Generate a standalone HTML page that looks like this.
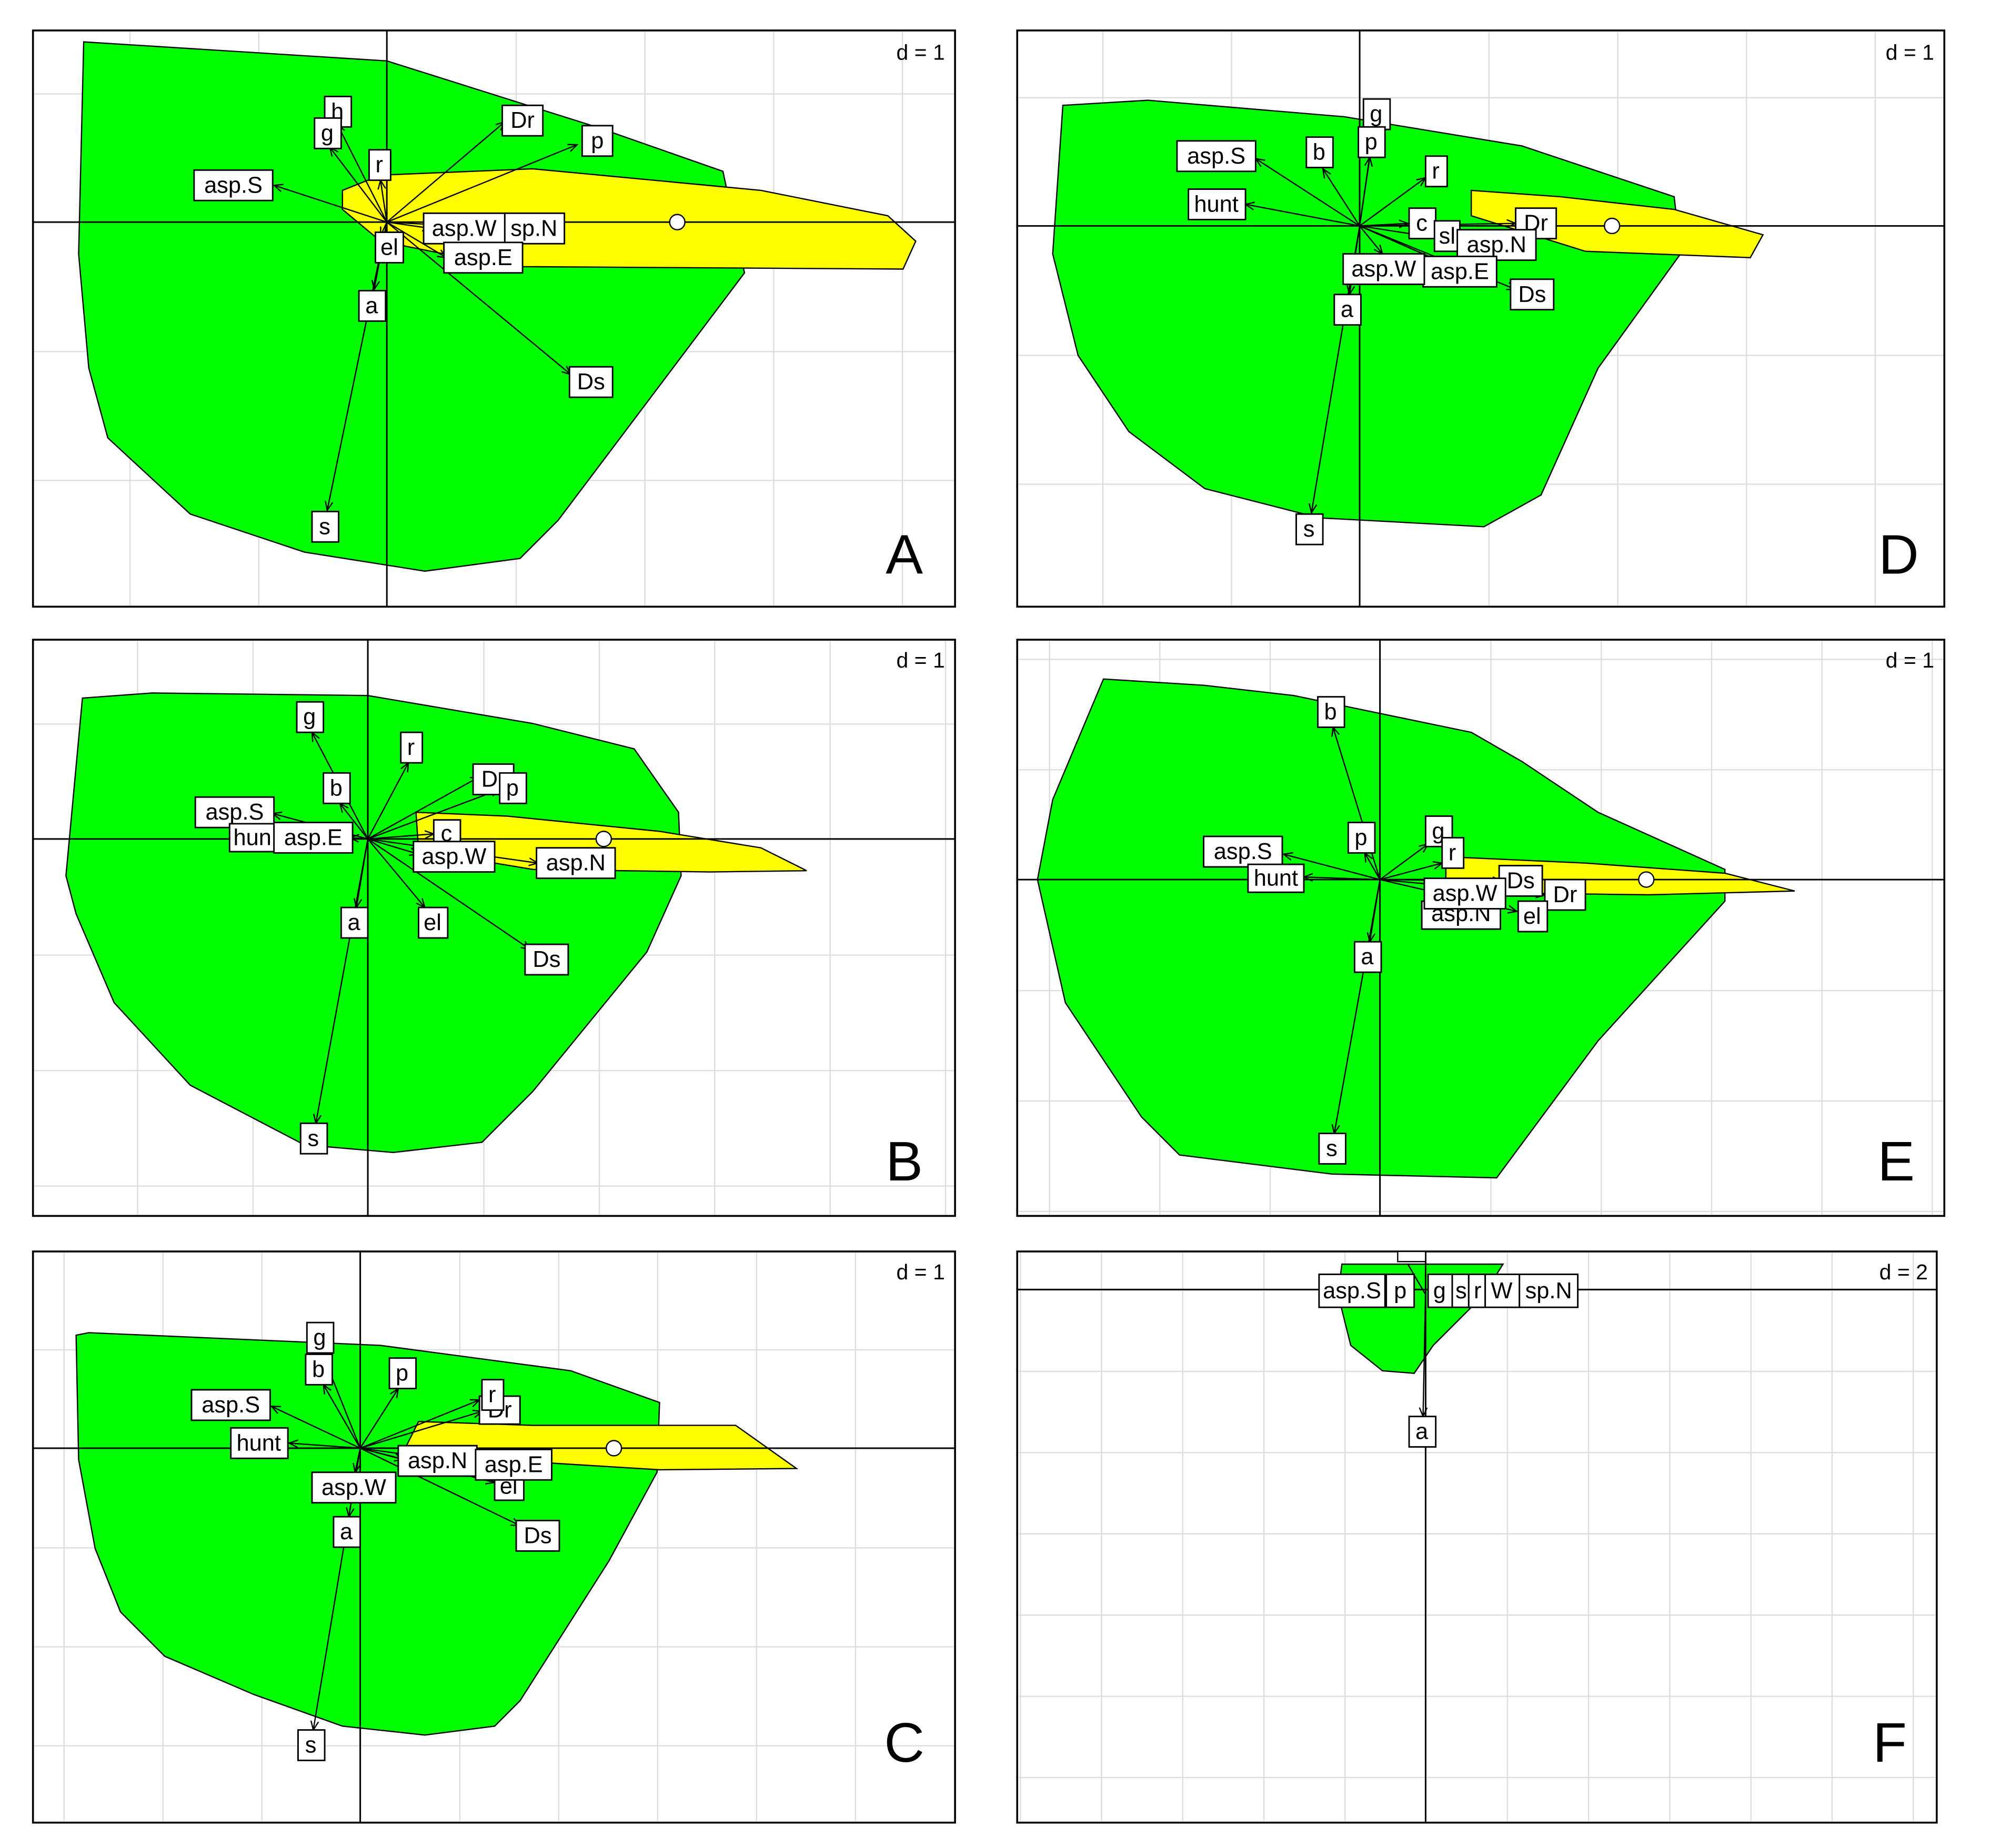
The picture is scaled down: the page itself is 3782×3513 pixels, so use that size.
<!DOCTYPE html>
<html><head><meta charset="utf-8"><style>
html,body{margin:0;padding:0;background:#fff;}
svg{display:block;}
text{font-family:"Liberation Sans",sans-serif;}
.l rect{fill:#fff;stroke:#000;stroke-width:1.2;}
.l text{font-size:18px;text-anchor:middle;dominant-baseline:central;fill:#000;}
.ar{stroke:#000;stroke-width:1;marker-end:url(#ah);}
.gr{fill:#00ff00;stroke:#000;stroke-width:1;}
.ye{fill:#ffff00;stroke:#000;stroke-width:1;}
.ax{stroke:#000;stroke-width:1.2;}
.fr{fill:#fff;stroke:#000;stroke-width:1.5;}
.big{font-size:44px;text-anchor:middle;}
.d{font-size:17px;text-anchor:end;}
</style></head><body>
<svg width="3782" height="3513" viewBox="0 0 1569 1456" preserveAspectRatio="none" xmlns="http://www.w3.org/2000/svg">
<defs>
<marker id="ah" markerWidth="8" markerHeight="8" refX="7" refY="4" orient="auto" markerUnits="userSpaceOnUse"><path d="M0,1 L7,4 L0,7" fill="none" stroke="#000" stroke-width="1"/></marker>
<pattern id="gA" patternUnits="userSpaceOnUse" width="101.5" height="101.5" x="305" y="175"><path d="M0,0 V101.5 M0,0 H101.5" stroke="#ddd" stroke-width="2" fill="none"/></pattern>
<pattern id="gD" patternUnits="userSpaceOnUse" width="101.5" height="101.5" x="1072" y="178"><path d="M0,0 V101.5 M0,0 H101.5" stroke="#ddd" stroke-width="2" fill="none"/></pattern>
<pattern id="gB" patternUnits="userSpaceOnUse" width="91" height="91" x="290" y="661"><path d="M0,0 V91 M0,0 H91" stroke="#ddd" stroke-width="2" fill="none"/></pattern>
<pattern id="gE" patternUnits="userSpaceOnUse" width="87" height="87" x="1088" y="693"><path d="M0,0 V87 M0,0 H87" stroke="#ddd" stroke-width="2" fill="none"/></pattern>
<pattern id="gC" patternUnits="userSpaceOnUse" width="78" height="78" x="284" y="1141"><path d="M0,0 V78 M0,0 H78" stroke="#ddd" stroke-width="2" fill="none"/></pattern>
<pattern id="gF" patternUnits="userSpaceOnUse" width="64" height="64" x="1124" y="1016"><path d="M0,0 V64 M0,0 H64" stroke="#ddd" stroke-width="2" fill="none"/></pattern>
</defs>
<rect width="1569" height="1456" fill="#fff"/>

<!-- Panel A -->
<rect class="fr" x="26" y="24" width="727" height="454"/>
<rect x="27" y="25" width="725" height="452" fill="url(#gA)"/>
<polygon class="gr" points="66,33 305,48 470,100 570,135 587,215 440,410 410,440 335,450 240,435 150,405 85,345 70,290 62,200"/>
<polygon class="ye" points="270,150 300,138 420,133 600,150 700,170 722,190 712,212 400,210 300,190 270,165"/>
<line class="ax" x1="26" y1="175" x2="753" y2="175"/><line class="ax" x1="305" y1="24" x2="305" y2="478"/>
<circle cx="534" cy="175" r="6" fill="#fff" stroke="#000"/>
<g class="ar"><line x1="305" y1="175" x2="266" y2="98"/><line x1="305" y1="175" x2="260" y2="116"/><line x1="305" y1="175" x2="300" y2="142"/><line x1="305" y1="175" x2="398" y2="96"/><line x1="305" y1="175" x2="455" y2="114"/><line x1="305" y1="175" x2="216" y2="146"/><line x1="305" y1="175" x2="340" y2="180"/><line x1="305" y1="175" x2="400" y2="180"/><line x1="305" y1="175" x2="352" y2="203"/><line x1="305" y1="175" x2="300" y2="186"/><line x1="305" y1="175" x2="295" y2="228"/><line x1="305" y1="175" x2="450" y2="295"/><line x1="305" y1="175" x2="258" y2="402"/></g>
<g class="l"><rect x="256" y="76" width="21" height="24"/><text x="266" y="88">h</text><rect x="248" y="93" width="21" height="24"/><text x="258" y="105">g</text><rect x="291" y="118" width="17" height="24"/><text x="299" y="130">r</text><rect x="396" y="83" width="32" height="24"/><text x="412" y="95">Dr</text><rect x="459" y="99" width="24" height="24"/><text x="471" y="111">p</text><rect x="153" y="134" width="62" height="24"/><text x="184" y="146">asp.S</text><rect x="334" y="168" width="64" height="24"/><text x="366" y="180">asp.W</text><rect x="398" y="168" width="47" height="24"/><text x="421" y="180">sp.N</text><rect x="350" y="191" width="62" height="24"/><text x="381" y="203">asp.E</text><rect x="296" y="183" width="22" height="24"/><text x="307" y="195">el</text><rect x="283" y="229" width="21" height="24"/><text x="293" y="241">a</text><rect x="449" y="289" width="34" height="24"/><text x="466" y="301">Ds</text><rect x="246" y="403" width="21" height="24"/><text x="256" y="415">s</text></g>
<text class="d" x="745" y="47">d = 1</text><text class="big" x="713" y="452">A</text>

<!-- Panel D -->
<rect class="fr" x="802" y="24" width="731" height="454"/>
<rect x="803" y="25" width="729" height="452" fill="url(#gD)"/>
<polygon class="gr" points="838,83 905,79 1060,92 1200,115 1320,155 1325,200 1260,290 1215,390 1170,415 1040,408 950,385 890,340 850,280 830,200"/>
<polygon class="ye" points="1160,150 1230,155 1320,165 1390,185 1380,203 1250,198 1160,170"/>
<line class="ax" x1="802" y1="178" x2="1533" y2="178"/><line class="ax" x1="1072" y1="24" x2="1072" y2="478"/>
<circle cx="1271" cy="178" r="6" fill="#fff" stroke="#000"/>
<g class="ar"><line x1="1072" y1="178" x2="1083" y2="102"/><line x1="1072" y1="178" x2="1080" y2="124"/><line x1="1072" y1="178" x2="1043" y2="133"/><line x1="1072" y1="178" x2="990" y2="125"/><line x1="1072" y1="178" x2="982" y2="161"/><line x1="1072" y1="178" x2="1124" y2="140"/><line x1="1072" y1="178" x2="1110" y2="176"/><line x1="1072" y1="178" x2="1195" y2="176"/><line x1="1072" y1="178" x2="1150" y2="190"/><line x1="1072" y1="178" x2="1090" y2="200"/><line x1="1072" y1="178" x2="1140" y2="208"/><line x1="1072" y1="178" x2="1195" y2="228"/><line x1="1072" y1="178" x2="1064" y2="232"/><line x1="1072" y1="178" x2="1034" y2="404"/></g>
<g class="l"><rect x="1075" y="78" width="21" height="24"/><text x="1085" y="90">g</text><rect x="1071" y="100" width="21" height="24"/><text x="1081" y="112">p</text><rect x="1030" y="108" width="21" height="24"/><text x="1040" y="120">b</text><rect x="928" y="111" width="62" height="24"/><text x="959" y="123">asp.S</text><rect x="937" y="149" width="45" height="24"/><text x="959" y="161">hunt</text><rect x="1124" y="123" width="17" height="24"/><text x="1132" y="135">r</text><rect x="1111" y="164" width="21" height="24"/><text x="1121" y="176">c</text><rect x="1195" y="164" width="32" height="24"/><text x="1211" y="176">Dr</text><rect x="1131" y="174" width="20" height="24"/><text x="1141" y="186">sl</text><rect x="1149" y="181" width="62" height="24"/><text x="1180" y="193">asp.N</text><rect x="1122" y="202" width="58" height="24"/><text x="1151" y="214">asp.E</text><rect x="1059" y="200" width="64" height="24"/><text x="1091" y="212">asp.W</text><rect x="1191" y="220" width="34" height="24"/><text x="1208" y="232">Ds</text><rect x="1052" y="232" width="21" height="24"/><text x="1062" y="244">a</text><rect x="1022" y="405" width="21" height="24"/><text x="1032" y="417">s</text></g>
<text class="d" x="1525" y="47">d = 1</text><text class="big" x="1497" y="452">D</text>

<!-- Panel B -->
<rect class="fr" x="26" y="504" width="727" height="454"/>
<rect x="27" y="505" width="725" height="452" fill="url(#gB)"/>
<polygon class="gr" points="65,550 120,546 290,548 420,570 500,590 535,640 537,690 510,750 420,860 380,900 310,908 240,902 150,855 90,790 60,720 52,690"/>
<polygon class="ye" points="328,640 400,643 520,655 600,668 636,686 560,687 420,685 330,670"/>
<line class="ax" x1="26" y1="661" x2="753" y2="661"/><line class="ax" x1="290" y1="504" x2="290" y2="958"/>
<circle cx="476" cy="661" r="6" fill="#fff" stroke="#000"/>
<g class="ar"><line x1="290" y1="661" x2="246" y2="577"/><line x1="290" y1="661" x2="322" y2="601"/><line x1="290" y1="661" x2="378" y2="612"/><line x1="290" y1="661" x2="394" y2="622"/><line x1="290" y1="661" x2="268" y2="633"/><line x1="290" y1="661" x2="215" y2="641"/><line x1="290" y1="661" x2="276" y2="660"/><line x1="290" y1="661" x2="342" y2="657"/><line x1="290" y1="661" x2="330" y2="673"/><line x1="290" y1="661" x2="424" y2="680"/><line x1="290" y1="661" x2="281" y2="715"/><line x1="290" y1="661" x2="335" y2="715"/><line x1="290" y1="661" x2="418" y2="748"/><line x1="290" y1="661" x2="249" y2="885"/></g>
<g class="l"><rect x="234" y="553" width="21" height="24"/><text x="244" y="565">g</text><rect x="316" y="577" width="17" height="24"/><text x="324" y="589">r</text><rect x="373" y="602" width="32" height="24"/><text x="389" y="614">Dr</text><rect x="394" y="609" width="21" height="24"/><text x="404" y="621">p</text><rect x="255" y="609" width="21" height="24"/><text x="265" y="621">b</text><rect x="154" y="628" width="62" height="24"/><text x="185" y="640">asp.S</text><rect x="181" y="649" width="36" height="22"/><text x="199" y="660">hun</text><rect x="216" y="648" width="62" height="24"/><text x="247" y="660">asp.E</text><rect x="342" y="646" width="21" height="22"/><text x="352" y="657">c</text><rect x="326" y="663" width="64" height="24"/><text x="358" y="675">asp.W</text><rect x="423" y="668" width="62" height="24"/><text x="454" y="680">asp.N</text><rect x="269" y="715" width="21" height="24"/><text x="279" y="727">a</text><rect x="330" y="715" width="23" height="24"/><text x="341" y="727">el</text><rect x="414" y="744" width="34" height="24"/><text x="431" y="756">Ds</text><rect x="237" y="885" width="21" height="24"/><text x="247" y="897">s</text></g>
<text class="d" x="745" y="526">d = 1</text><text class="big" x="713" y="930">B</text>

<!-- Panel E -->
<rect class="fr" x="802" y="504" width="731" height="454"/>
<rect x="803" y="505" width="729" height="452" fill="url(#gE)"/>
<polygon class="gr" points="870,535 950,540 1020,548 1160,577 1200,600 1260,640 1360,685 1360,710 1260,820 1180,928 1050,925 930,910 900,880 840,790 818,693 830,630"/>
<polygon class="ye" points="1140,675 1250,680 1360,688 1415,702 1300,705 1140,703"/>
<line class="ax" x1="802" y1="693" x2="1533" y2="693"/><line class="ax" x1="1088" y1="504" x2="1088" y2="958"/>
<circle cx="1298" cy="693" r="6" fill="#fff" stroke="#000"/>
<g class="ar"><line x1="1088" y1="693" x2="1051" y2="573"/><line x1="1088" y1="693" x2="1076" y2="672"/><line x1="1088" y1="693" x2="1126" y2="665"/><line x1="1088" y1="693" x2="1137" y2="680"/><line x1="1088" y1="693" x2="1012" y2="673"/><line x1="1088" y1="693" x2="1028" y2="691"/><line x1="1088" y1="693" x2="1184" y2="694"/><line x1="1088" y1="693" x2="1218" y2="705"/><line x1="1088" y1="693" x2="1196" y2="718"/><line x1="1088" y1="693" x2="1080" y2="742"/><line x1="1088" y1="693" x2="1052" y2="893"/></g>
<g class="l"><rect x="1039" y="549" width="21" height="24"/><text x="1049" y="561">b</text><rect x="1063" y="648" width="21" height="24"/><text x="1073" y="660">p</text><rect x="1124" y="643" width="21" height="24"/><text x="1134" y="655">g</text><rect x="1137" y="660" width="17" height="24"/><text x="1145" y="672">r</text><rect x="949" y="659" width="62" height="24"/><text x="980" y="671">asp.S</text><rect x="984" y="681" width="44" height="22"/><text x="1006" y="692">hunt</text><rect x="1182" y="682" width="34" height="24"/><text x="1199" y="694">Ds</text><rect x="1121" y="710" width="62" height="22"/><text x="1152" y="720">asp.N</text><rect x="1123" y="692" width="64" height="24"/><text x="1155" y="704">asp.W</text><rect x="1218" y="693" width="32" height="24"/><text x="1234" y="705">Dr</text><rect x="1197" y="710" width="23" height="24"/><text x="1208" y="722">el</text><rect x="1068" y="742" width="21" height="24"/><text x="1078" y="754">a</text><rect x="1040" y="893" width="21" height="24"/><text x="1050" y="905">s</text></g>
<text class="d" x="1525" y="526">d = 1</text><text class="big" x="1495" y="930">E</text>

<!-- Panel C -->
<rect class="fr" x="26" y="986" width="727" height="450"/>
<rect x="27" y="987" width="725" height="448" fill="url(#gC)"/>
<polygon class="gr" points="60,1052 70,1050 300,1060 450,1080 520,1105 518,1160 480,1230 410,1340 390,1360 335,1367 270,1360 200,1335 130,1305 95,1270 75,1220 62,1150"/>
<polygon class="ye" points="330,1120 420,1123 580,1123 628,1157 520,1158 390,1150 320,1140"/>
<line class="ax" x1="26" y1="1141" x2="753" y2="1141"/><line class="ax" x1="284" y1="986" x2="284" y2="1436"/>
<circle cx="484" cy="1141" r="6" fill="#fff" stroke="#000"/>
<g class="ar"><line x1="284" y1="1141" x2="254" y2="1066"/><line x1="284" y1="1141" x2="255" y2="1091"/><line x1="284" y1="1141" x2="314" y2="1094"/><line x1="284" y1="1141" x2="214" y2="1108"/><line x1="284" y1="1141" x2="378" y2="1103"/><line x1="284" y1="1141" x2="380" y2="1112"/><line x1="284" y1="1141" x2="228" y2="1137"/><line x1="284" y1="1141" x2="318" y2="1150"/><line x1="284" y1="1141" x2="378" y2="1154"/><line x1="284" y1="1141" x2="390" y2="1168"/><line x1="284" y1="1141" x2="280" y2="1160"/><line x1="284" y1="1141" x2="275" y2="1195"/><line x1="284" y1="1141" x2="410" y2="1202"/><line x1="284" y1="1141" x2="247" y2="1363"/></g>
<g class="l"><rect x="242" y="1042" width="21" height="24"/><text x="252" y="1054">g</text><rect x="241" y="1067" width="21" height="24"/><text x="251" y="1079">b</text><rect x="307" y="1070" width="21" height="24"/><text x="317" y="1082">p</text><rect x="151" y="1095" width="62" height="24"/><text x="182" y="1107">asp.S</text><rect x="378" y="1100" width="32" height="22"/><text x="394" y="1111">Dr</text><rect x="380" y="1087" width="17" height="24"/><text x="388" y="1099">r</text><rect x="182" y="1125" width="45" height="24"/><text x="204" y="1137">hunt</text><rect x="390" y="1160" width="23" height="22"/><text x="401" y="1171">el</text><rect x="314" y="1139" width="62" height="24"/><text x="345" y="1151">asp.N</text><rect x="375" y="1142" width="60" height="24"/><text x="405" y="1154">asp.E</text><rect x="246" y="1160" width="66" height="24"/><text x="279" y="1172">asp.W</text><rect x="263" y="1195" width="21" height="24"/><text x="273" y="1207">a</text><rect x="407" y="1198" width="34" height="24"/><text x="424" y="1210">Ds</text><rect x="235" y="1363" width="21" height="24"/><text x="245" y="1375">s</text></g>
<text class="d" x="745" y="1008">d = 1</text><text class="big" x="713" y="1388">C</text>

<!-- Panel F -->
<rect class="fr" x="802" y="986" width="725" height="450"/>
<rect x="803" y="987" width="723" height="448" fill="url(#gF)"/>
<polygon class="gr" points="1058,996 1185,996 1170,1020 1130,1060 1115,1082 1090,1080 1065,1060 1055,1020"/>
<line class="ax" x1="802" y1="1016" x2="1527" y2="1016"/><line class="ax" x1="1124" y1="986" x2="1124" y2="1436"/>
<rect x="1102" y="986" width="22" height="8" fill="#fff" stroke="#000"/>
<line class="ar" x1="1124" y1="1016" x2="1122" y2="1116"/>
<line x1="1110" y1="996" x2="1124" y2="1020" stroke="#000"/>
<g class="l"><rect x="1040" y="1004" width="52" height="26"/><text x="1066" y="1017">asp.S</text><rect x="1093" y="1004" width="22" height="26"/><text x="1104" y="1017">p</text><rect x="1126" y="1004" width="19" height="26"/><text x="1135" y="1017">g</text><rect x="1145" y="1004" width="13" height="26"/><text x="1152" y="1017">s</text><rect x="1158" y="1004" width="13" height="26"/><text x="1165" y="1017">r</text><rect x="1171" y="1004" width="27" height="26"/><text x="1184" y="1017">W</text><rect x="1198" y="1004" width="46" height="26"/><text x="1221" y="1017">sp.N</text><rect x="1111" y="1116" width="21" height="24"/><text x="1121" y="1128">a</text></g>
<text class="d" x="1520" y="1008">d = 2</text><text class="big" x="1490" y="1388">F</text>
</svg>
</body></html>
